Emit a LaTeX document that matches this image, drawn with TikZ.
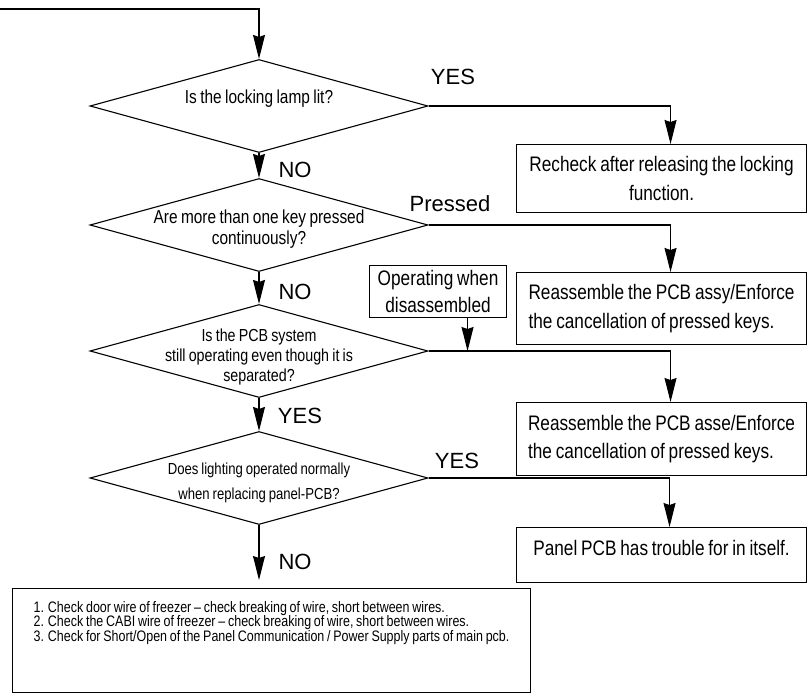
\documentclass[tikz,border=0pt]{standalone}
\usepackage{fontspec}
\setmainfont{Liberation Sans}
\newfontfamily\nf[FakeStretch=0.82,WordSpace=0.8]{Liberation Sans}
\usetikzlibrary{arrows.meta,shapes.geometric}
\begin{document}
\begin{tikzpicture}[x=1pt,y=-1pt,line width=1.1pt,
  dia/.style={draw,diamond,minimum width=338pt,minimum height=93pt,inner sep=0pt},
  box/.style={draw,anchor=north west,inner sep=0pt},
  arr/.style={-{Stealth[length=24pt,width=12pt,inset=2pt]}},
  lab/.style={font=\fontsize{22}{24}\selectfont,inner sep=0pt},
  dtA/.style={font=\nf\fontsize{18.8}{21}\selectfont,align=center,inner sep=0pt},
  btxt/.style={font=\nf\fontsize{21}{28.3}\selectfont},
]
\useasboundingbox (0,0) rectangle (807,694);
% diamonds
\node[dia] (d1) at (259,106) {};
\node[dia] (d2) at (259,225) {};
\node[dia] (d3) at (259,351) {};
\node[dia] (d4) at (259,478) {};
\node[dtA] (t1) at (259,98.5) {Is the locking lamp lit?};
\node[dtA] (t2) at (259,229.6) {Are more than one key pressed\\continuously?};
\node[font=\nf\fontsize{17.4}{20}\selectfont,align=center,inner sep=0pt] (t3) at (259,357.3)
  {Is the PCB system\\still operating even though it is\\separated?};
\node[font=\nf\fontsize{16}{25.6}\selectfont,align=center,inner sep=0pt] (t4) at (259,483)
  {Does lighting operated normally\\when replacing panel-PCB?};
% boxes
\node[box,btxt,minimum width=290pt,minimum height=68pt,align=center] (b1) at (516,144)
  {Recheck after releasing the locking\\function.};
\node[box,btxt,minimum width=290pt,minimum height=72pt,align=left] (b2) at (516,272)
  {Reassemble the PCB assy/Enforce\\the cancellation of pressed keys.};
\node[box,btxt,minimum width=290pt,minimum height=73pt,align=left] (b3) at (516,402)
  {Reassemble the PCB asse/Enforce\\the cancellation of pressed keys.};
\node[box,btxt,minimum width=290pt,minimum height=55pt,text depth=15pt] (b4) at (516,527)
  {Panel PCB has trouble for in itself.};
\node[box,font=\nf\fontsize{21}{26.7}\selectfont,minimum width=137pt,minimum height=52pt,align=center] (op) at (369,265)
  {Operating when\\disassembled};
\node[box,font=\nf\fontsize{15.2}{14.5}\selectfont,minimum width=518pt,minimum height=104pt,align=left,inner xsep=5pt] (bb) at (12,588)
  {1. Check door wire of freezer – check breaking of wire, short between wires.\\
   2. Check the CABI wire of freezer – check breaking of wire, short between wires.\\
   3. Check for Short/Open of the Panel Communication / Power Supply parts of main pcb.\\[24pt]};
% labels
\node[lab] (y1) at (453,77) {YES};
\node[lab] (n1) at (295,170) {NO};
\node[lab] (pr) at (450,204) {Pressed};
\node[lab] (n2) at (295,292) {NO};
\node[lab] (y3) at (300,416) {YES};
\node[lab] (y4) at (457,461) {YES};
\node[lab] (n3) at (295,562) {NO};
% connectors
\coordinate (s0) at (0,9);
\draw[arr] (s0) -| (d1.north);
\draw[arr] (d1.south) -- (d2.north);
\draw[arr] (d2.south) -- (d3.north);
\draw[arr] (d3.south) -- (d4.north);
\draw[arr,shorten >=8pt] (d4.south) -- (d4.south |- bb.north);
\draw[arr] (d1.east) -| ([xshift=9pt]b1.north);
\draw[arr] (d2.east) -| ([xshift=9pt]b2.north);
\draw[arr] (d3.east) -| ([xshift=9pt]b3.north);
\draw[arr] (d4.east) -| ([xshift=8pt]b4.north);
\coordinate (j) at ([xshift=29.5pt]op.south |- d3.east);
\draw[arr] ([xshift=29.5pt]op.south) -- (j);
\end{tikzpicture}
\end{document}
